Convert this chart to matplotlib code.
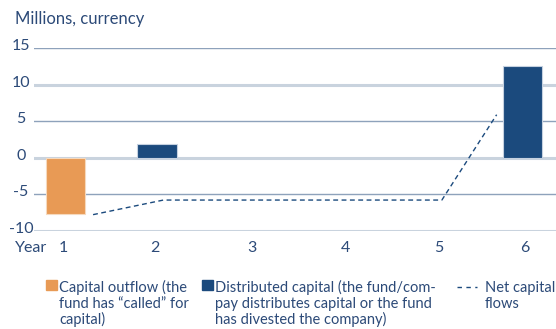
import matplotlib
matplotlib.use("Agg")
import matplotlib.pyplot as plt
from matplotlib.patches import Rectangle
from matplotlib.lines import Line2D

# Data
years = [1, 2, 3, 4, 5, 6]
outflow_years = [1]
outflow_values = [-7.7]
distributed_years = [2, 6]
distributed_values = [1.9, 12.6]
net_x = [1.30, 2.07, 5.12, 5.72]
net_values = [-7.8, -5.8, -5.8, 5.9]
y_ticks = [15, 10, 5, 0, -5, -10]

TEXT = "#2c4a78"
ORANGE = "#e89a55"
NAVY = "#1b4a7d"
FONT = "Lato"

plt.rcParams["font.family"] = [FONT, "DejaVu Sans"]

W, H = 556, 329
fig = plt.figure(figsize=(W / 100, H / 100), dpi=100)
ax = fig.add_axes([34 / W, 1 - 230.7 / H, 1 - 34 / W, (230.7 - 48.3) / H])
ax.set_xlim(0.653, 6.37)
ax.set_ylim(-10, 15)
for s in ax.spines.values():
    s.set_visible(False)
ax.set_xticks([])
ax.set_yticks([])

# Gridlines (alternating weights)
for i, v in enumerate(y_ticks):
    if i % 2 == 0:
        ax.axhline(v, color="#8ea2bb", lw=1.0, zorder=0)
    else:
        ax.axhline(v, color="#c9d3de", lw=2.2, zorder=0)

bw = 0.43
ax.bar(outflow_years, outflow_values, width=bw, color=ORANGE,
       edgecolor="#f6d9bd", linewidth=0.8, zorder=2)
ax.bar(distributed_years, distributed_values, width=bw, color=NAVY,
       edgecolor="#c5d1e0", linewidth=0.8, zorder=2)
ax.plot(net_x, net_values, color=NAVY, lw=1.0, ls=(0, (3.5, 2.5)), zorder=3)

# Y tick labels
for v in y_ticks:
    ax.annotate(str(v), xy=(0, v), xycoords=("figure fraction", "data"),
                xytext=(21, 2), textcoords="offset pixels",
                ha="center", va="center", fontsize=11.5, color=TEXT)

# X labels
label_px = [63.5, 154.5, 251.5, 345, 438.5, 524.5]
for yr, px in zip(years, label_px):
    fig.text(px / W, 1 - 248.3 / H, str(yr), ha="center", va="center",
             fontsize=11.5, color=TEXT)
fig.text(15 / W, 1 - 248.3 / H, "Year", ha="left", va="center",
         fontsize=11.5, color=TEXT)

fig.text(15 / W, 1 - 19 / H, "Millions, currency", ha="left", va="center",
         fontsize=12, color=TEXT)

# Legend
fig.add_artist(Rectangle((46 / W, 1 - 290 / H), 10.5 / W, 10 / H,
                         transform=fig.transFigure, color=ORANGE))
fig.add_artist(Rectangle((201.7 / W, 1 - 290 / H), 11 / W, 10 / H,
                         transform=fig.transFigure, color=NAVY))
fig.add_artist(Line2D([456.7 / W, 477.3 / W], [1 - 287.3 / H, 1 - 287.3 / H],
                      transform=fig.transFigure, color=NAVY, lw=1.0,
                      ls=(0, (3.2, 3.2))))
legend_texts = [
    (59.3, ["Capital outflow (the", "fund has \u201ccalled\u201d for", "capital)"]),
    (215, ["Distributed capital (the fund/com-",
           "pay distributes capital or the fund",
           "has divested the company)"]),
    (485, ["Net capital", "flows"]),
]
baselines = [291.7, 308.0, 324.3]
for px, lines in legend_texts:
    for line, by in zip(lines, baselines):
        fig.text(px / W, 1 - by / H, line, ha="left", va="baseline",
                 fontsize=10.5, color=TEXT)

fig.savefig("out.png", dpi=100)
